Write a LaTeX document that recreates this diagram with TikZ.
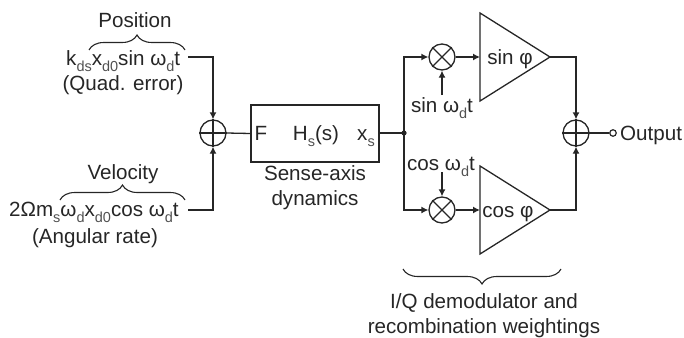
\documentclass[tikz,border=0pt]{standalone}
\usepackage{fontspec}
\setmainfont{Liberation Sans}
\usetikzlibrary{arrows.meta,decorations.pathreplacing,shapes.geometric}
\definecolor{ink}{HTML}{262626}
\newcommand{\sbs}[1]{\raisebox{-0.3em}{\fontsize{14.5}{15}\selectfont\color{ink!80}#1}}
\newcommand{\omd}{ω\sbs{d}}
\tikzset{
  x=1pt,y=-1pt,
  wire/.style={draw=ink,line width=1.3pt},
  arr/.style={wire,-{Latex[length=7pt,width=7pt]}},
  lbl/.style={text=ink,inner sep=0pt,font=\fontsize{20.6}{22}\selectfont},
  sumc/.style={circle,draw=ink,line width=1.3pt,minimum size=26pt,inner sep=0pt},
  brc/.style={draw=ink,line width=1.1pt,decorate,decoration={brace,amplitude=15pt}},
  amp/.style={wire,line join=miter},
}
\begin{document}
\begin{tikzpicture}
\useasboundingbox (0,0) rectangle (684,337);
% junctions
\node[sumc] (s1) at (213,133) {};
\draw[wire] (s1.north)--(s1.south) (s1.west)--(s1.east);
\node[sumc] (s2) at (576,133) {};
\draw[wire] (s2.north)--(s2.south) (s2.west)--(s2.east);
\node[sumc] (m1) at (442,57) {};
\draw[wire] (m1.45)--(m1.225) (m1.135)--(m1.315);
\node[sumc] (m2) at (442,210) {};
\draw[wire] (m2.45)--(m2.225) (m2.135)--(m2.315);
% box
\node[draw=ink,line width=1.3pt,minimum width=128pt,minimum height=57pt,inner sep=0pt] (box) at (315,133.5) {};
\node[lbl,anchor=base] (f) at (261,140) {F};
\node[lbl,anchor=base] (h) at (316,140) {H\sbs{s}(s)};
\node[lbl,anchor=base] (xs) at (366,140) {x\sbs{s}};
\node[lbl,anchor=base] (sd1) at (315,180) {Sense-axis};
\node[lbl,anchor=base] (sd2) at (315,205) {dynamics};
% amplifiers
\coordinate (a1t) at (480,13); \coordinate (a1b) at (480,101); \coordinate (a1o) at (550,57);
\coordinate (a1i) at (480,57);
\draw[amp] (a1t)--(a1o)--(a1b)--cycle;
\coordinate (a2t) at (480,166); \coordinate (a2b) at (480,254); \coordinate (a2o) at (550,210);
\coordinate (a2i) at (480,210);
\draw[amp] (a2t)--(a2o)--(a2b)--cycle;
\node[lbl,anchor=base] (a1l) at (510,64) {sin φ};
\node[lbl,anchor=base] (a2l) at (508,217) {cos φ};
% inputs
\node[lbl,anchor=base] (pos) at (135,28) {Position};
\node[lbl,anchor=base west] (e1) at (66,65) {k\sbs{ds}x\sbs{d0}sin \omd t};
\node[lbl,anchor=base] (qe) at (123,90) {(Quad. error)};
\node[lbl,anchor=base] (vel) at (123,179) {Velocity};
\node[lbl,anchor=base west] (e2) at (9,216) {2Ωm\sbs{s}\omd x\sbs{d0}cos \omd t};
\node[lbl,anchor=base] (ar) at (95,243) {(Angular rate)};
\coordinate (b1l) at (89,50); \coordinate (b1r) at (185,50);
\draw[brc] (b1l)--(b1r);
\coordinate (b2l) at (60,200); \coordinate (b2r) at (185,200);
\draw[brc] (b2l)--(b2r);
\coordinate (b3l) at (403,269); \coordinate (b3r) at (561,269);
\draw[brc] (b3r)--(b3l);
\node[lbl,anchor=base] (iq1) at (484,308) {I/Q demodulator and};
\node[lbl,anchor=base] (iq2) at (484,333) {recombination weightings};
% wires
\coordinate (i1) at (188,57); \coordinate (i2) at (188,210);
\draw[arr] (i1)-|(s1.north);
\draw[arr] (i2)-|(s1.south);
\draw[wire] (s1.east)--(box.west);
\coordinate (j) at (404,133);
\draw[wire] (box.east|-j)--(j);
\fill[ink] (j) circle (2.6pt);
\draw[arr] (j)|-(m1.west);
\draw[arr] (j)|-(m2.west);
\draw[arr] (m1.east)--(a1i);
\draw[arr] (m2.east)--(a2i);
\node[lbl,anchor=base] (sw) at (442,112) {sin \omd t};
\node[lbl,anchor=base] (cw) at (441,170) {cos \omd t};
\coordinate (sw1) at (442,95); \coordinate (cw1) at (442,172);
\draw[arr] (sw1)--(m1.south);
\draw[arr] (cw1)--(m2.north);
\draw[arr] (a1o)-|(s2.north);
\draw[arr] (a2o)-|(s2.south);
\node[circle,draw=ink,line width=1.2pt,minimum size=6.5pt,inner sep=0pt] (o) at (613,133) {};
\draw[wire] (s2.east)--(o.west);
\node[lbl,anchor=base west] (out) at (620,140) {Output};
\end{tikzpicture}
\end{document}
